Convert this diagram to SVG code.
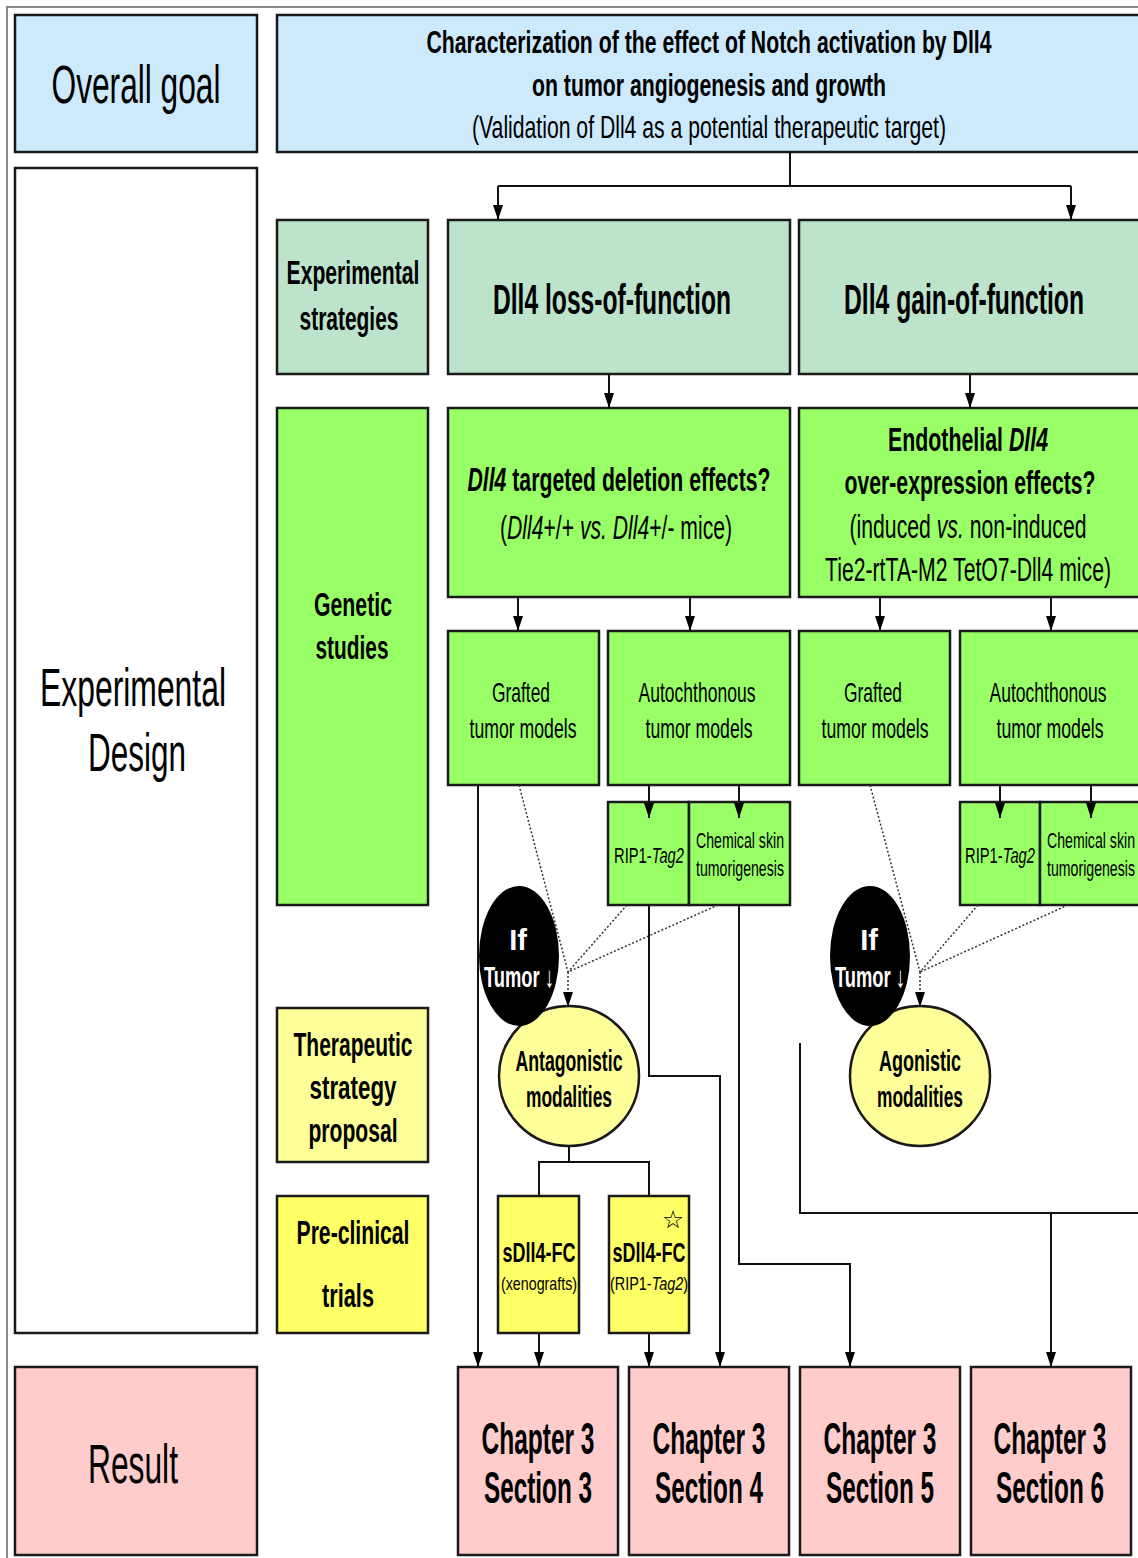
<svg xmlns="http://www.w3.org/2000/svg" width="1138" height="1558" viewBox="0 0 1138 1558">
<style>
.box{stroke:#1a1a1a;stroke-width:2.5}
.blue{fill:#cdeafd}.sage{fill:#bde3cb}.green{fill:#99ff66}.ly{fill:#ffff99}.y{fill:#ffff66}.pink{fill:#ffcccc}.white{fill:#fff}
text{font-family:"Liberation Sans Narrow","Liberation Sans",Arial,sans-serif;text-anchor:middle;fill:#000}
.b{font-weight:bold}.i{font-style:italic}.n{font-weight:normal}
.w{fill:#fff}
.conn{stroke:#111;stroke-width:2;fill:none}
.dot{stroke:#333;stroke-width:1.5;stroke-dasharray:2 2;fill:none}
</style>
<defs>
<marker id="arr" viewBox="0 0 10 10" refX="10" refY="5" markerWidth="15" markerHeight="10" markerUnits="userSpaceOnUse" preserveAspectRatio="none" orient="auto">
<path d="M0,0 L10,5 L0,10 z" fill="#000"/>
</marker>
</defs>
<rect x="7" y="7" width="1200" height="1600" fill="none" stroke="#888" stroke-width="2"/>

<g id="overall-goal"><rect class="box blue" x="15" y="15" width="242" height="137"/><text x="136" y="103" font-size="54" textLength="169" lengthAdjust="spacingAndGlyphs">Overall goal</text></g>
<g id="goal"><rect class="box blue" x="277" y="15" width="880" height="137"/>
<text class="b" x="709" y="53" font-size="32" textLength="565" lengthAdjust="spacingAndGlyphs">Characterization of the effect of Notch activation by Dll4</text>
<text class="b" x="709" y="96" font-size="32" textLength="354" lengthAdjust="spacingAndGlyphs">on tumor angiogenesis and growth</text>
<text x="709" y="138" font-size="32" textLength="474" lengthAdjust="spacingAndGlyphs">(Validation of Dll4 as a potential therapeutic target)</text></g>

<g id="experimental-design"><rect class="box white" x="15" y="168" width="242" height="1165"/>
<text x="133" y="706" font-size="53" textLength="186" lengthAdjust="spacingAndGlyphs">Experimental</text>
<text x="137" y="771" font-size="53" textLength="98" lengthAdjust="spacingAndGlyphs">Design</text></g>
<g id="result"><rect class="box pink" x="15" y="1367" width="242" height="188"/><text x="133" y="1483" font-size="55" textLength="90" lengthAdjust="spacingAndGlyphs">Result</text></g>

<g id="experimental-strategies"><rect class="box sage" x="277" y="220" width="151" height="154"/>
<text class="b" x="353" y="284" font-size="33" textLength="133" lengthAdjust="spacingAndGlyphs">Experimental</text>
<text class="b" x="349" y="330" font-size="33" textLength="99" lengthAdjust="spacingAndGlyphs">strategies</text></g>
<g id="loss"><rect class="box sage" x="448" y="220" width="342" height="154"/><text class="b" x="612" y="314" font-size="42" textLength="238" lengthAdjust="spacingAndGlyphs">Dll4 loss-of-function</text></g>
<g id="gain"><rect class="box sage" x="799" y="220" width="360" height="154"/><text class="b" x="964" y="314" font-size="42" textLength="240" lengthAdjust="spacingAndGlyphs">Dll4 gain-of-function</text></g>

<g id="genetic-studies"><rect class="box green" x="277" y="408" width="151" height="497"/>
<text class="b" x="353" y="616" font-size="34" textLength="78" lengthAdjust="spacingAndGlyphs">Genetic</text>
<text class="b" x="352" y="659" font-size="34" textLength="73" lengthAdjust="spacingAndGlyphs">studies</text></g>
<g id="deletion"><rect class="box green" x="448" y="408" width="342" height="189"/>
<text class="b" x="619" y="491" font-size="33" textLength="303" lengthAdjust="spacingAndGlyphs"><tspan class="i">Dll4</tspan> targeted deletion effects?</text>
<text x="616" y="539" font-size="33" textLength="232" lengthAdjust="spacingAndGlyphs">(<tspan class="i">Dll4</tspan>+/+ <tspan class="i">vs.</tspan> <tspan class="i">Dll4</tspan>+/- mice)</text></g>
<g id="overexpression"><rect class="box green" x="799" y="408" width="360" height="189"/>
<text class="b" x="968" y="451" font-size="33" textLength="160" lengthAdjust="spacingAndGlyphs">Endothelial <tspan class="i">Dll4</tspan></text>
<text class="b" x="970" y="494" font-size="33" textLength="251" lengthAdjust="spacingAndGlyphs">over-expression effects?</text>
<text x="968" y="538" font-size="33" textLength="237" lengthAdjust="spacingAndGlyphs">(induced <tspan class="i">vs.</tspan> non-induced</text>
<text x="968" y="581" font-size="33" textLength="286" lengthAdjust="spacingAndGlyphs">Tie2-rtTA-M2 TetO7-Dll4 mice)</text></g>

<g id="grafted-1"><rect class="box green" x="448" y="631" width="151" height="154"/>
<text x="521" y="702" font-size="28" textLength="58" lengthAdjust="spacingAndGlyphs">Grafted</text>
<text x="523" y="738" font-size="28" textLength="107" lengthAdjust="spacingAndGlyphs">tumor models</text></g>
<g id="autochthonous-1"><rect class="box green" x="608" y="631" width="182" height="154"/>
<text x="697" y="702" font-size="28" textLength="117" lengthAdjust="spacingAndGlyphs">Autochthonous</text>
<text x="699" y="738" font-size="28" textLength="107" lengthAdjust="spacingAndGlyphs">tumor models</text></g>
<g id="grafted-2"><rect class="box green" x="799" y="631" width="151" height="154"/>
<text x="873" y="702" font-size="28" textLength="58" lengthAdjust="spacingAndGlyphs">Grafted</text>
<text x="875" y="738" font-size="28" textLength="107" lengthAdjust="spacingAndGlyphs">tumor models</text></g>
<g id="autochthonous-2"><rect class="box green" x="960" y="631" width="199" height="154"/>
<text x="1048" y="702" font-size="28" textLength="117" lengthAdjust="spacingAndGlyphs">Autochthonous</text>
<text x="1050" y="738" font-size="28" textLength="107" lengthAdjust="spacingAndGlyphs">tumor models</text></g>

<g id="rip1-1"><rect class="box green" x="608" y="802" width="81" height="103"/>
<text x="649" y="863" font-size="22" textLength="70" lengthAdjust="spacingAndGlyphs">RIP1-<tspan class="i">Tag2</tspan></text></g>
<g id="chemical-1"><rect class="box green" x="689" y="802" width="101" height="103"/>
<text x="740" y="848" font-size="22" textLength="88" lengthAdjust="spacingAndGlyphs">Chemical skin</text>
<text x="740" y="876" font-size="22" textLength="88" lengthAdjust="spacingAndGlyphs">tumorigenesis</text></g>
<g id="rip1-2"><rect class="box green" x="960" y="802" width="80" height="103"/>
<text x="1000" y="863" font-size="22" textLength="70" lengthAdjust="spacingAndGlyphs">RIP1-<tspan class="i">Tag2</tspan></text></g>
<g id="chemical-2"><rect class="box green" x="1040" y="802" width="119" height="103"/>
<text x="1091" y="848" font-size="22" textLength="88" lengthAdjust="spacingAndGlyphs">Chemical skin</text>
<text x="1091" y="876" font-size="22" textLength="88" lengthAdjust="spacingAndGlyphs">tumorigenesis</text></g>

<g id="therapeutic-strategy"><rect class="box ly" x="277" y="1008" width="151" height="154"/>
<text class="b" x="353" y="1056" font-size="34" textLength="119" lengthAdjust="spacingAndGlyphs">Therapeutic</text>
<text class="b" x="353" y="1099" font-size="34" textLength="87" lengthAdjust="spacingAndGlyphs">strategy</text>
<text class="b" x="353" y="1142" font-size="34" textLength="89" lengthAdjust="spacingAndGlyphs">proposal</text></g>
<g id="preclinical"><rect class="box y" x="277" y="1196" width="151" height="137"/>
<text class="b" x="353" y="1244" font-size="34" textLength="113" lengthAdjust="spacingAndGlyphs">Pre-clinical</text>
<text class="b" x="348" y="1307" font-size="34" textLength="52" lengthAdjust="spacingAndGlyphs">trials</text></g>

<g id="antagonistic"><circle class="box ly" cx="569" cy="1076" r="70"/>
<text class="b" x="569" y="1071" font-size="29" textLength="107" lengthAdjust="spacingAndGlyphs">Antagonistic</text>
<text class="b" x="569" y="1107" font-size="29" textLength="86" lengthAdjust="spacingAndGlyphs">modalities</text></g>
<g id="if-tumor-1"><ellipse cx="519" cy="956" rx="40" ry="70" fill="#000"/>
<text class="b w" x="518" y="950" font-size="29">If</text>
<text class="b w" x="519" y="987" font-size="29" textLength="70" lengthAdjust="spacingAndGlyphs">Tumor <tspan class="n">↓</tspan></text></g>
<g id="agonistic"><circle class="box ly" cx="920" cy="1076" r="70"/>
<text class="b" x="920" y="1071" font-size="29" textLength="82" lengthAdjust="spacingAndGlyphs">Agonistic</text>
<text class="b" x="920" y="1107" font-size="29" textLength="86" lengthAdjust="spacingAndGlyphs">modalities</text></g>
<g id="if-tumor-2"><ellipse cx="870" cy="956" rx="40" ry="70" fill="#000"/>
<text class="b w" x="869" y="950" font-size="29">If</text>
<text class="b w" x="870" y="987" font-size="29" textLength="70" lengthAdjust="spacingAndGlyphs">Tumor <tspan class="n">↓</tspan></text></g>

<g id="sdll4-xeno"><rect class="box y" x="498" y="1196" width="81" height="137"/>
<text class="b" x="539" y="1262" font-size="28" textLength="73" lengthAdjust="spacingAndGlyphs">sDll4-FC</text>
<text x="539" y="1290" font-size="19" textLength="76" lengthAdjust="spacingAndGlyphs">(xenografts)</text></g>
<g id="sdll4-rip"><rect class="box y" x="609" y="1196" width="80" height="137"/>
<text x="673" y="1228" font-size="25" style="font-family:'DejaVu Sans',sans-serif">☆</text>
<text class="b" x="649" y="1262" font-size="28" textLength="73" lengthAdjust="spacingAndGlyphs">sDll4-FC</text>
<text x="649" y="1290" font-size="19" textLength="78" lengthAdjust="spacingAndGlyphs">(RIP1-<tspan class="i">Tag2</tspan>)</text></g>

<g id="ch3s3"><rect class="box pink" x="458" y="1367" width="160" height="188"/>
<text class="b" x="538" y="1454" font-size="44" textLength="113" lengthAdjust="spacingAndGlyphs">Chapter 3</text>
<text class="b" x="538" y="1503" font-size="44" textLength="108" lengthAdjust="spacingAndGlyphs">Section 3</text></g>
<g id="ch3s4"><rect class="box pink" x="629" y="1367" width="160" height="188"/>
<text class="b" x="709" y="1454" font-size="44" textLength="113" lengthAdjust="spacingAndGlyphs">Chapter 3</text>
<text class="b" x="709" y="1503" font-size="44" textLength="108" lengthAdjust="spacingAndGlyphs">Section 4</text></g>
<g id="ch3s5"><rect class="box pink" x="800" y="1367" width="160" height="188"/>
<text class="b" x="880" y="1454" font-size="44" textLength="113" lengthAdjust="spacingAndGlyphs">Chapter 3</text>
<text class="b" x="880" y="1503" font-size="44" textLength="108" lengthAdjust="spacingAndGlyphs">Section 5</text></g>
<g id="ch3s6"><rect class="box pink" x="971" y="1367" width="160" height="188"/>
<text class="b" x="1050" y="1454" font-size="44" textLength="113" lengthAdjust="spacingAndGlyphs">Chapter 3</text>
<text class="b" x="1050" y="1503" font-size="44" textLength="108" lengthAdjust="spacingAndGlyphs">Section 6</text></g>

<g id="connectors">
<path class="conn" d="M790,152 V186 M498,186 H1071"/>
<path class="conn" d="M498,186 V220" marker-end="url(#arr)"/>
<path class="conn" d="M1071,186 V220" marker-end="url(#arr)"/>
<path class="conn" d="M609,374 V408" marker-end="url(#arr)"/>
<path class="conn" d="M970,374 V408" marker-end="url(#arr)"/>
<path class="conn" d="M518,597 V631" marker-end="url(#arr)"/>
<path class="conn" d="M690,597 V631" marker-end="url(#arr)"/>
<path class="conn" d="M880,597 V631" marker-end="url(#arr)"/>
<path class="conn" d="M1051,597 V631" marker-end="url(#arr)"/>
<path class="conn" d="M649,785 V818" marker-end="url(#arr)"/>
<path class="conn" d="M739,785 V818" marker-end="url(#arr)"/>
<path class="conn" d="M1000,785 V818" marker-end="url(#arr)"/>
<path class="conn" d="M1091,785 V818" marker-end="url(#arr)"/>
<path class="conn" d="M478,785 V1367" marker-end="url(#arr)"/>
<path class="dot" d="M519,785 L568,972 M627,905 L568,972 M718,905 L568,972"/>
<path class="dot" d="M568,972 V1007" marker-end="url(#arr)"/>
<path class="dot" d="M870,785 L920,972 M978,905 L920,972 M1068,905 L920,972"/>
<path class="dot" d="M920,972 V1007" marker-end="url(#arr)"/>
<path class="conn" d="M649,905 V1076 H720 V1367" marker-end="url(#arr)"/>
<path class="conn" d="M739,905 V1264 H850 V1367" marker-end="url(#arr)"/>
<path class="conn" d="M569,1146 V1162 M539,1196 V1162 H649 V1196"/>
<path class="conn" d="M539,1333 V1367" marker-end="url(#arr)"/>
<path class="conn" d="M649,1333 V1367" marker-end="url(#arr)"/>
<path class="conn" d="M800,1043 V1213 H1145"/>
<path class="conn" d="M1051,1213 V1367" marker-end="url(#arr)"/>
</g>
</svg>
